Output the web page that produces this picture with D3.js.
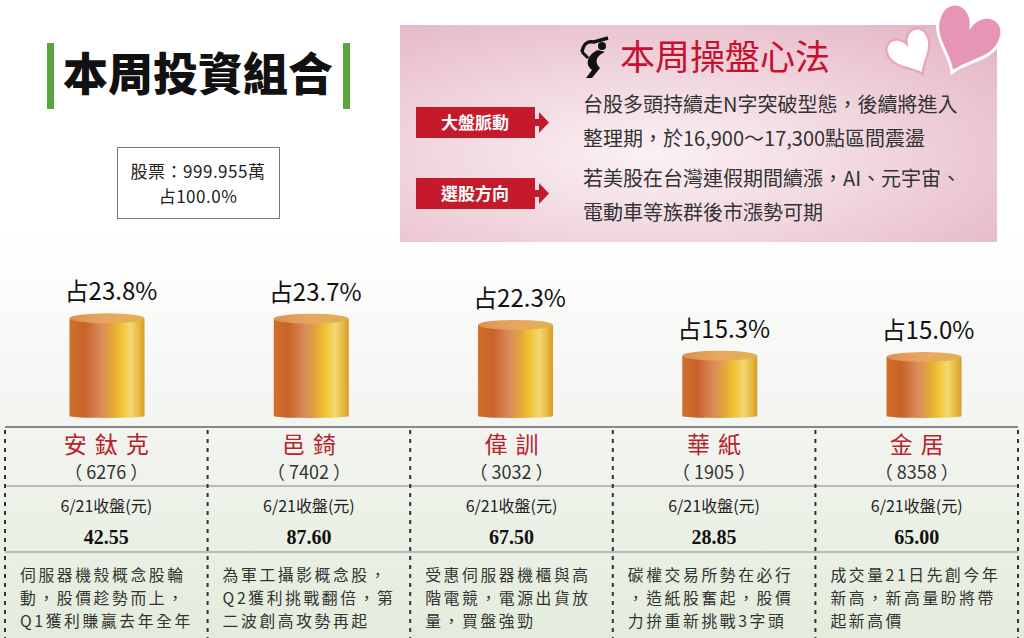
<!DOCTYPE html>
<html>
<head>
<meta charset="utf-8">
<script src="https://d3js.org/d3.v7.min.js"></script>
<style>
  body { margin: 0; background: #fff; }
  svg text { font-family: "Noto Sans CJK TC", "Noto Sans", sans-serif; }
</style>
</head>
<body>
<div id="chart"></div>
<script>
// data
let names = ["安鈦克", "邑錡", "偉訓", "華紙", "金居"];
let codes = ["6276", "7402", "3032", "1905", "8358"];
let shares = [23.8, 23.7, 22.3, 15.3, 15.0];
let prices = ["42.55", "87.60", "67.50", "28.85", "65.00"];
let notes = [
  ["伺服器機殼概念股輪", "動，股價趁勢而上，", "Q1獲利賺贏去年全年"],
  ["為軍工攝影概念股，", "Q2獲利挑戰翻倍，第", "二波創高攻勢再起"],
  ["受惠伺服器機櫃與高", "階電競，電源出貨放", "量，買盤強勁"],
  ["碳權交易所勢在必行", "，造紙股奮起，股價", "力拚重新挑戰3字頭"],
  ["成交量21日先創今年", "新高，新高量盼將帶", "起新高價"]
];
let stockLines = ["股票：999.955萬", "占100.0%"];
let tipLabels = ["大盤脈動", "選股方向"];
let tipLines = [
  ["台股多頭持續走N字突破型態，後續將進入", "整理期，於16,900～17,300點區間震盪"],
  ["若美股在台灣連假期間續漲，AI、元宇宙、", "電動車等族群後市漲勢可期"]
];

let svgWidth = 1024, svgHeight = 638;
let svg = d3.select("#chart").append("svg")
  .attr("width", svgWidth)
  .attr("height", svgHeight);

let defs = svg.append("defs");

// background
let bg = defs.append("linearGradient").attr("id", "bg")
  .attr("x1", 0).attr("y1", 0).attr("x2", 0).attr("y2", 1);
bg.append("stop").attr("offset", "0.36").attr("stop-color", "#ffffff");
bg.append("stop").attr("offset", "0.62").attr("stop-color", "#f5f6f3");
bg.append("stop").attr("offset", "1").attr("stop-color", "#e3ecdc");
svg.append("rect").attr("width", svgWidth).attr("height", svgHeight).attr("fill", "url(#bg)");

// cylinder gradients
let body = defs.append("linearGradient").attr("id", "cyl")
  .attr("x1", 0).attr("y1", 0).attr("x2", 1).attr("y2", 0);
[["0", "#d0702c"], ["0.2", "#c9622a"], ["0.42", "#d98c5c"], ["0.56", "#e4a43a"],
 ["0.68", "#efc232"], ["0.82", "#f3d872"], ["0.95", "#e3b036"], ["1", "#d49a2a"]]
  .forEach(s => body.append("stop").attr("offset", s[0]).attr("stop-color", s[1]));
let lid = defs.append("linearGradient").attr("id", "lid")
  .attr("x1", 0).attr("y1", 0).attr("x2", 1).attr("y2", 0);
[["0", "#dc9050"], ["0.5", "#e8a860"], ["1", "#e2b050"]]
  .forEach(s => lid.append("stop").attr("offset", s[0]).attr("stop-color", s[1]));

// pink panel gradient
let pink = defs.append("radialGradient").attr("id", "pink")
  .attr("cx", "0.42").attr("cy", "0.6").attr("r", "0.75");
pink.append("stop").attr("offset", "0").attr("stop-color", "#fbf1f4");
pink.append("stop").attr("offset", "0.5").attr("stop-color", "#f1d6df");
pink.append("stop").attr("offset", "1").attr("stop-color", "#e5b8c8");

// ---- title
svg.append("rect").attr("x", 47).attr("y", 43).attr("width", 7).attr("height", 66).attr("fill", "#5aa53c");
svg.append("rect").attr("x", 343).attr("y", 43).attr("width", 7).attr("height", 66).attr("fill", "#5aa53c");
svg.append("text").attr("x", 198).attr("y", 91)
  .attr("text-anchor", "middle").attr("font-size", 45).attr("font-weight", 900)
  .attr("fill", "#111").text("本周投資組合");

// stock box
svg.append("rect").attr("x", 117.5).attr("y", 147.5).attr("width", 162).attr("height", 71)
  .attr("fill", "#fff").attr("stroke", "#777").attr("stroke-width", 1);
svg.selectAll(".stockline").data(stockLines).enter().append("text")
  .attr("class", "stockline")
  .attr("x", 198).attr("y", (d, i) => 178 + i * 25)
  .attr("text-anchor", "middle").attr("font-size", 17).attr("letter-spacing", 0.5).attr("fill", "#222")
  .text(d => d);

// ---- pink panel
svg.append("rect").attr("x", 400).attr("y", 25).attr("width", 597).attr("height", 217).attr("fill", "url(#pink)");

// hearts
function heartPath(s) {
  return "M0," + (-0.22 * s) +
    " C" + (-0.12 * s) + "," + (-0.58 * s) + " " + (-0.58 * s) + "," + (-0.52 * s) + " " + (-0.52 * s) + "," + (-0.1 * s) +
    " C" + (-0.48 * s) + "," + (0.2 * s) + " " + (-0.12 * s) + "," + (0.36 * s) + " 0," + (0.6 * s) +
    " C" + (0.12 * s) + "," + (0.36 * s) + " " + (0.48 * s) + "," + (0.2 * s) + " " + (0.52 * s) + "," + (-0.1 * s) +
    " C" + (0.58 * s) + "," + (-0.52 * s) + " " + (0.12 * s) + "," + (-0.58 * s) + " 0," + (-0.22 * s) + " Z";
}
svg.append("path").attr("d", heartPath(42))
  .attr("transform", "translate(911,52) rotate(-28)")
  .attr("fill", "#fff").attr("stroke", "#e7a9c0").attr("stroke-width", 2.5);
svg.append("path").attr("d", heartPath(62))
  .attr("transform", "translate(966,38) rotate(22)")
  .attr("fill", "#e696b4").attr("stroke", "#fff").attr("stroke-width", 3);

// golfer icon
let icon = svg.append("g").attr("transform", "translate(580,36)");
icon.append("path").attr("d", "M2,16 Q4,4 14,6 L28,2").attr("fill", "none").attr("stroke", "#111").attr("stroke-width", 3.5);
icon.append("circle").attr("cx", 22).attr("cy", 10).attr("r", 4).attr("fill", "#111");
icon.append("path").attr("d", "M18,14 C8,18 4,28 12,34 L6,42 L12,42 L20,32 C14,26 16,20 25,16 Z").attr("fill", "#111");
icon.append("path").attr("d", "M2,16 L8,22").attr("stroke", "#111").attr("stroke-width", 3);
svg.append("text").attr("x", 620).attr("y", 70)
  .attr("font-size", 35).attr("fill", "#c8102e").text("本周操盤心法");

// tip rows
let tips = svg.selectAll(".tip").data(tipLabels).enter().append("g")
  .attr("class", "tip");
tips.append("rect").attr("x", 416).attr("y", (d, i) => 107 + i * 71)
  .attr("width", 119).attr("height", 31).attr("fill", "#c41a2c");
tips.append("text").attr("x", 475).attr("y", (d, i) => 129 + i * 71).attr("text-anchor", "middle")
  .attr("font-size", 17).attr("font-weight", 700).attr("fill", "#fff").text(d => d);
tips.append("path")
  .attr("transform", (d, i) => "translate(0," + (i * 71) + ")")
  .attr("d", "M535,119 L539,119 L539,112 L549,122.5 L539,133 L539,126 L535,126 Z").attr("fill", "#c41a2c");
tips.each(function(d, i) {
  d3.select(this).selectAll(".tipline").data(tipLines[i]).enter().append("text")
    .attr("class", "tipline")
    .attr("x", 583).attr("y", (t, j) => 112 + i * 74 + j * 34)
    .attr("font-size", 20).attr("fill", "#333").text(t => t);
});

// ---- cylinders
let baseY = 418;
let x = d3.scaleBand().domain(names).range([5, 1018]);
let xc = d3.scalePoint().domain(names).range([107, 924]);
let h = d3.scaleLinear().domain([0, 25]).range([0, 110]);
let cw = 75, ry = 5;

let cyl = svg.selectAll(".cyl").data(names).enter().append("g").attr("class", "cyl");
cyl.append("path")
  .attr("d", (d, i) => {
    let x0 = xc(d) - cw / 2, x1 = xc(d) + cw / 2, top = baseY - h(shares[i]) + ry;
    return "M" + x0 + "," + top + " L" + x0 + "," + (baseY - 2) +
      " A" + (cw / 2) + "," + 2 + " 0 0 0 " + x1 + "," + (baseY - 2) +
      " L" + x1 + "," + top + " Z";
  })
  .attr("fill", "url(#cyl)");
cyl.append("ellipse")
  .attr("cx", d => xc(d))
  .attr("cy", (d, i) => baseY - h(shares[i]) + ry)
  .attr("rx", cw / 2).attr("ry", ry)
  .attr("fill", "url(#lid)");
cyl.append("text")
  .attr("x", d => xc(d) + 4)
  .attr("y", (d, i) => baseY - h(shares[i]) - 13)
  .attr("text-anchor", "middle").attr("font-size", 24).attr("fill", "#111")
  .text((d, i) => "占" + shares[i].toFixed(1) + "%");

// ---- table
[427, 486, 552].forEach((yy, k) => {
  svg.append("line").attr("x1", 5).attr("x2", 1018).attr("y1", yy).attr("y2", yy)
    .attr("stroke", k === 0 ? "#888" : "#aaa").attr("stroke-width", k === 0 ? 2 : 1.5);
});
let dividers = names.map(d => x(d)).concat([x(names[names.length - 1]) + x.bandwidth()]);
svg.selectAll(".div").data(dividers).enter().append("line")
  .attr("class", "div")
  .attr("x1", d => d).attr("x2", d => d).attr("y1", 430).attr("y2", 638)
  .attr("stroke", "#333").attr("stroke-width", 2).attr("stroke-dasharray", "4,5");

let col = svg.selectAll(".col").data(names).enter().append("g").attr("class", "col");
col.append("text")
  .attr("x", d => x(d) + x.bandwidth() / 2 + 4)
  .attr("y", 453).attr("text-anchor", "middle")
  .attr("font-size", 23).attr("letter-spacing", 8).attr("fill", "#b8222a")
  .text(d => d);
col.append("text")
  .attr("x", d => x(d) + x.bandwidth() / 2)
  .attr("y", 479).attr("text-anchor", "middle")
  .attr("font-size", 18).attr("fill", "#333")
  .text((d, i) => "（ " + codes[i] + " ）");
col.append("text")
  .attr("x", d => x(d) + x.bandwidth() / 2)
  .attr("y", 512).attr("text-anchor", "middle")
  .attr("font-size", 16).attr("fill", "#222")
  .text("6/21收盤(元)");
col.append("text")
  .attr("x", d => x(d) + x.bandwidth() / 2)
  .attr("y", 544).attr("text-anchor", "middle")
  .style("font-family", "'Liberation Serif', serif")
  .attr("font-size", 20).attr("font-weight", 700).attr("fill", "#111")
  .text((d, i) => prices[i]);
col.each(function(n, i) {
  d3.select(this).selectAll(".note").data(notes[i]).enter().append("text")
    .attr("class", "note")
    .attr("x", x(n) + 15)
    .attr("y", (t, j) => 581 + j * 23)
    .attr("font-size", 15.8).attr("letter-spacing", 2.6).attr("fill", "#333")
    .text(t => t);
});
</script>
</body>
</html>
